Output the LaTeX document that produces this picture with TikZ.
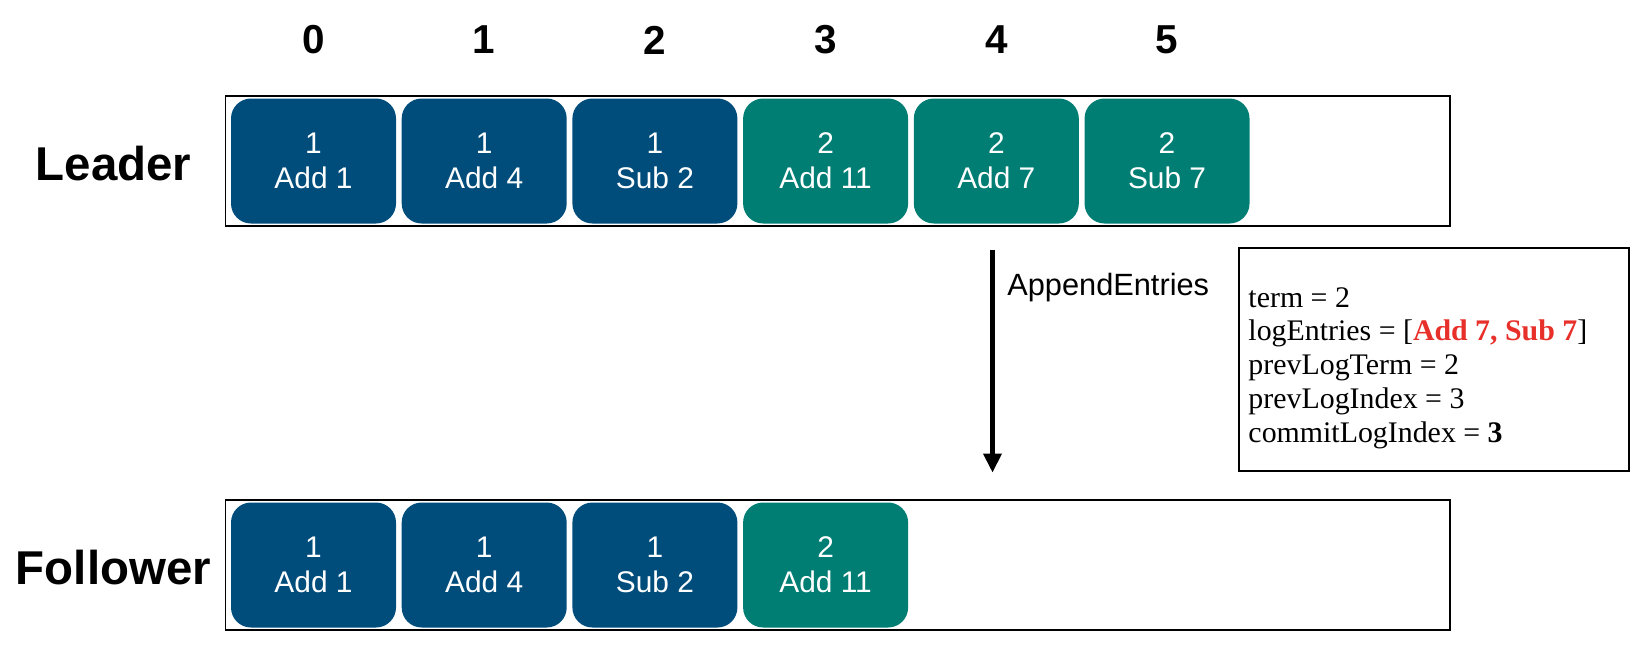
\documentclass[tikz,border=0pt]{standalone}
\usepackage{fontspec}
\setmainfont{Liberation Sans}
\newfontfamily\timesfont{Liberation Serif}
\usepackage{xcolor}
\usetikzlibrary{arrows.meta,positioning}
\definecolor{termone}{RGB}{0,77,124}
\definecolor{termtwo}{RGB}{0,126,116}
\definecolor{hotred}{RGB}{232,48,42}
\tikzset{
  logframe/.style={
    rectangle, draw, line width=1pt, inner sep=0pt,
    minimum width=24.49cm, minimum height=2.6cm
  },
  entry/.style={
    rectangle, rounded corners=0.4cm, inner sep=0pt,
    minimum width=3.3cm, minimum height=2.5cm,
    align=center, text=white, font=\fontsize{17}{20}\selectfont
  },
  oldterm/.style={entry, fill=termone},
  newterm/.style={entry, fill=termtwo},
  idx/.style={font=\fontsize{23}{26}\selectfont\bfseries},
  role/.style={font=\fontsize{27}{30}\selectfont\bfseries},
  rpc/.style={-{Triangle[length=0.38cm,width=0.36cm]}, line width=2.3pt},
  rpclabel/.style={anchor=west, inner sep=0pt, font=\fontsize{17.5}{20}\selectfont},
  argbox/.style={
    rectangle, draw, line width=1pt, inner sep=0pt,
    minimum width=7.8cm, minimum height=4.46cm
  },
  argtext/.style={
    anchor=west, inner sep=0pt, align=left,
    font=\timesfont\fontsize{17}{19.2}\selectfont
  },
}

\begin{document}
\begin{tikzpicture}
  \useasboundingbox (0,0) rectangle (33,-13.16);

  % Log frames
  \node[logframe] (lframe) at (16.757,-3.215) {};
  \node[logframe] (fframe) at (16.757,-11.3) {};

  % Roles
  \node[role] (leader) at (2.27,-3.28) {Leader};
  \node[role] (follower) at (2.27,-11.36) {Follower};

  % Leader entries
  \node[oldterm] (lc0) at (6.27,-3.22) {1\\Add 1};
  \node[oldterm, right=0.1cm of lc0] (lc1) {1\\Add 4};
  \node[oldterm, right=0.1cm of lc1] (lc2) {1\\Sub 2};
  \node[newterm, right=0.1cm of lc2] (lc3) {2\\Add 11};
  \node[newterm, right=0.1cm of lc3] (lc4) {2\\Add 7};
  \node[newterm, right=0.1cm of lc4] (lc5) {2\\Sub 7};

  % Follower entries
  \node[oldterm] (fc0) at (6.27,-11.3) {1\\Add 1};
  \node[oldterm, right=0.1cm of fc0] (fc1) {1\\Add 4};
  \node[oldterm, right=0.1cm of fc1] (fc2) {1\\Sub 2};
  \node[newterm, right=0.1cm of fc2] (fc3) {2\\Add 11};

  % Log indices
  \node[idx] (i0) at (lc0 |- 0,-0.8) {0};
  \node[idx] (i1) at (lc1 |- 0,-0.8) {1};
  \node[idx] (i2) at (lc2 |- 0,-0.8) {2};
  \node[idx] (i3) at (lc3 |- 0,-0.8) {3};
  \node[idx] (i4) at (lc4 |- 0,-0.8) {4};
  \node[idx] (i5) at (lc5 |- 0,-0.8) {5};

  % RPC arrow
  \coordinate (rpcstart) at (19.85,-5.0);
  \coordinate (rpcend) at (19.85,-9.45);
  \draw[rpc] (rpcstart) -- (rpcend);
  \node[rpclabel] (rpcname) at (20.14,-5.75) {AppendEntries};

  % RPC arguments
  \node[argbox] (args) at (28.68,-7.19) {};
  \node[argtext] (argtxt) at ([xshift=0.2cm,yshift=-0.17cm]args.west) {%
    term = 2\\
    logEntries = [\textcolor{hotred}{\textbf{Add 7, Sub 7}}]\\
    prevLogTerm = 2\\
    prevLogIndex = 3\\
    commitLogIndex = \textbf{3}};
\end{tikzpicture}
\end{document}
